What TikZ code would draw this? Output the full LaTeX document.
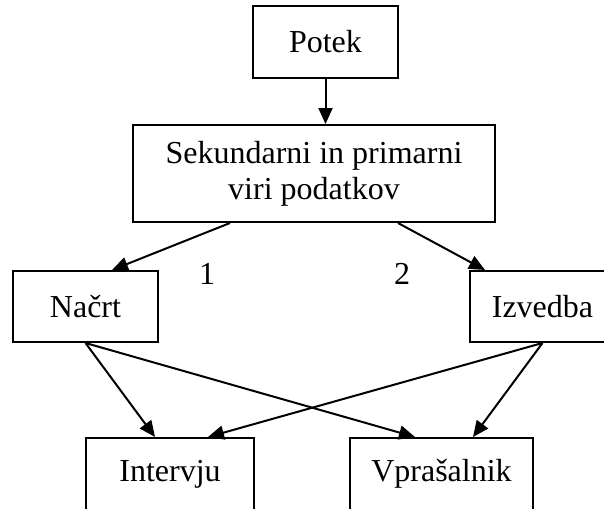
\documentclass[tikz,border=0pt]{standalone}
\usepackage{fontspec}
\setmainfont{Liberation Serif}
\usetikzlibrary{arrows.meta}
\begin{document}
\begin{tikzpicture}[x=1pt,y=1pt,
  box/.style={draw,line width=2pt,inner sep=0pt,align=center,font=\fontsize{32}{36}\selectfont},
  conn/.style={line width=2pt,-{Triangle[length=16pt,width=14pt]}},
  lbl/.style={font=\fontsize{32}{36}\selectfont,anchor=base,inner sep=0pt}]
\useasboundingbox (0,0) rectangle (604,-508);
\node[box,minimum width=145pt,minimum height=72pt] (potek) at (325.5,-42) {Potek};
\node[box,minimum width=362pt,minimum height=97pt] (sek) at (314,-173.5) {Sekundarni in primarni\\viri podatkov};
\node[box,minimum width=145pt,minimum height=71pt] (nacrt) at (85.5,-306.5) {Načrt};
\node[box,minimum width=145pt,minimum height=71pt] (izv) at (542.5,-306.5) {Izvedba};
\node[box,minimum width=168pt,minimum height=72pt] (int) at (170,-474) {Intervju};
\node[box,minimum width=183pt,minimum height=72pt] (vpr) at (441.5,-474) {Vprašalnik};
\node[lbl] (l1) at (207,-284) {1};
\node[lbl] (l2) at (402,-284) {2};
\draw[conn] (potek.south) -- (potek.south |- sek.north);
\draw[conn] ([xshift=-84pt]sek.south) -- ([xshift=26.5pt]nacrt.north);
\draw[conn] ([xshift=84pt]sek.south) -- ([xshift=-57.5pt]izv.north);
\draw[conn] (nacrt.south) -- ([xshift=-15pt]int.north);
\draw[conn] (nacrt.south) -- ([xshift=-26.5pt]vpr.north);
\draw[conn] (izv.south) -- ([xshift=38pt]int.north);
\draw[conn] (izv.south) -- ([xshift=31.5pt]vpr.north);
\end{tikzpicture}
\end{document}
